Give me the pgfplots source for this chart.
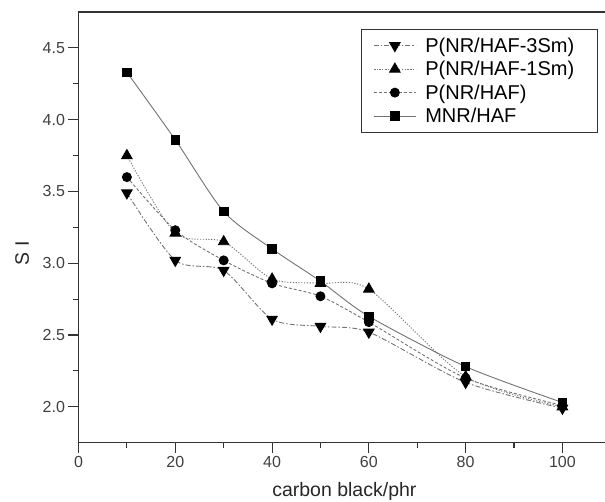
\documentclass[border=0pt]{standalone}
\usepackage{fontspec}
\setmainfont{Liberation Sans}
\usepackage{pgfplots}
\pgfplotsset{compat=1.18}

\definecolor{curve}{gray}{0.45}
\definecolor{frame}{gray}{0.2}
\newcommand\legentry[1]{\hspace*{7pt}#1\hspace*{9pt}}

\begin{document}
\begin{tikzpicture}
\begin{axis}[
  at={(0pt,0pt)}, anchor=south west,
  scale only axis,
  width=526.5pt, height=430.7pt,
  xmin=0, xmax=108.8,
  ymin=1.75, ymax=4.75,
  axis y line*=left,
  axis line style={frame, line width=1.1pt},
  xtick={0,20,...,100},
  minor x tick num=1,
  ytick={2.0,2.5,...,4.5},
  minor y tick num=1,
  yticklabel style={/pgf/number format/fixed, /pgf/number format/fixed zerofill, /pgf/number format/precision=1},
  xtick pos=bottom, ytick pos=left,
  tick align=outside,
  major tick length=10pt, minor tick length=5pt,
  tick style={frame, line width=1.1pt},
  /pgf/number format/assume math mode=true,
  tick label style={font=\fontsize{16}{18}\selectfont, text=black!75},
  xlabel={carbon black/phr},
  ylabel={S I},
  label style={font=\fontsize{19.5}{22}\selectfont, text=black!85},
  xlabel style={at={(axis description cs:0.505,-0.113)}, anchor=center},
  ylabel style={at={(axis description cs:-0.107,0.44)}, anchor=center},
  legend style={at={(0.5366,0.96)}, anchor=north west, draw=frame, line width=0.8pt,
    font=\fontsize{20}{22}\selectfont, inner xsep=12pt, inner ysep=6pt,
    row sep=3.5pt, cells={anchor=west}},
  legend image code/.code={%
    \draw[mark repeat=2, mark phase=2, #1] plot coordinates {(0pt,0pt) (21pt,0pt) (42pt,0pt)};},
  every axis plot/.append style={curve, line width=0.9pt, smooth, tension=0.45},
]
\addplot[dash pattern=on 5pt off 2pt on 1.5pt off 2pt, mark=triangle*, mark size=6pt,
  mark options={solid, rotate=180, fill=black, draw=black}]
  coordinates {(10,3.49) (20,3.02) (30,2.95) (40,2.61) (50,2.56) (60,2.52) (80,2.17) (100,1.99)};
\addplot[dash pattern=on 1.2pt off 1.6pt, mark=triangle*, mark size=6pt,
  mark options={solid, fill=black, draw=black}]
  coordinates {(10,3.75) (20,3.21) (30,3.15) (40,2.89) (50,2.86) (60,2.82) (80,2.21) (100,2.00)};
\addplot[dash pattern=on 3pt off 2pt, mark=*, mark size=4.5pt,
  mark options={solid, fill=black, draw=black}]
  coordinates {(10,3.60) (20,3.23) (30,3.02) (40,2.86) (50,2.77) (60,2.59) (80,2.20) (100,2.01)};
\addplot[solid, mark=square*, mark size=4.3pt,
  mark options={solid, fill=black, draw=black}]
  coordinates {(10,4.33) (20,3.86) (30,3.36) (40,3.10) (50,2.875) (60,2.63) (80,2.28) (100,2.03)};
\legend{\legentry{P(NR/HAF-3Sm)}, \legentry{P(NR/HAF-1Sm)}, \legentry{P(NR/HAF)}, \legentry{MNR/HAF}}
\end{axis}
\pgfresetboundingbox
\path (-78.5pt,-58.3pt) rectangle (526.5pt,442.7pt);
\end{tikzpicture}
\end{document}
